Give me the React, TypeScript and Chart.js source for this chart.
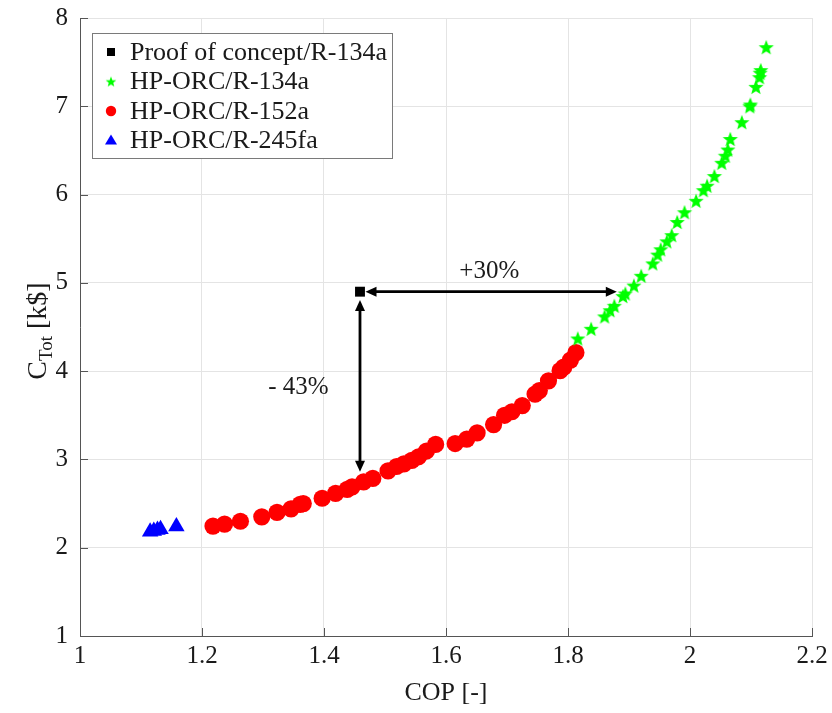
import React, { useEffect, useRef } from "react";
import { Chart, registerables } from "chart.js";

Chart.register(...registerables);

const FONT = "'Liberation Serif', 'Times New Roman', Times, serif";

const xTickValues = [1, 1.2, 1.4, 1.6, 1.8, 2, 2.2];
const xTickLabels = ["1", "1.2", "1.4", "1.6", "1.8", "2", "2.2"];
const yTickValues = [1, 2, 3, 4, 5, 6, 7, 8];
const yTickLabels = ["1", "2", "3", "4", "5", "6", "7", "8"];

const seriesLabels = [
  "Proof of concept/R-134a",
  "HP-ORC/R-134a",
  "HP-ORC/R-152a",
  "HP-ORC/R-245fa",
];

const proofCOP = [1.459];
const proofCost = [4.9];

const r134aCOP = [
  1.816, 1.838, 1.86, 1.869, 1.876, 1.89, 1.894, 1.908, 1.92, 1.939, 1.947,
  1.952, 1.962, 1.97, 1.979, 1.991, 2.01, 2.022, 2.028, 2.04, 2.052, 2.058,
  2.062, 2.066, 2.085, 2.098, 2.099, 2.108, 2.114, 2.115, 2.116, 2.125,
];
const r134aCost = [
  4.37, 4.48, 4.62, 4.69, 4.74, 4.85, 4.88, 4.97, 5.08, 5.22, 5.32, 5.38, 5.47,
  5.54, 5.69, 5.8, 5.93, 6.05, 6.1, 6.21, 6.36, 6.44, 6.51, 6.63, 6.82, 7.0,
  7.02, 7.22, 7.33, 7.38, 7.41, 7.67,
];

const r152aCOP = [
  1.218, 1.237, 1.263, 1.298, 1.323, 1.346, 1.361, 1.366, 1.397, 1.419, 1.438,
  1.446, 1.465, 1.48, 1.505, 1.519, 1.531, 1.544, 1.555, 1.568, 1.583, 1.615,
  1.634, 1.651, 1.678, 1.696, 1.708, 1.725, 1.746, 1.753, 1.768, 1.787, 1.793,
  1.804, 1.813,
];
const r152aCost = [
  2.245, 2.268, 2.3, 2.35, 2.4, 2.44, 2.49, 2.5, 2.56, 2.615, 2.66, 2.69, 2.745,
  2.785, 2.87, 2.92, 2.95, 2.99, 3.03, 3.095, 3.17, 3.18, 3.23, 3.3, 3.395, 3.5,
  3.54, 3.61, 3.74, 3.78, 3.89, 4.005, 4.045, 4.125, 4.21,
];

const r245faCOP = [1.115, 1.121, 1.127, 1.132, 1.158];
const r245faCost = [2.18, 2.19, 2.2, 2.21, 2.24];

// double-headed arrows and their notes
const arrowStartX = [1.468, 1.459];
const arrowStartY = [4.9, 4.805];
const arrowEndX = [1.88, 1.459];
const arrowEndY = [4.9, 2.86];
const noteTexts = ["+30%", "- 43%"];
const noteX = [1.671, 1.358];
const noteY = [5.13, 3.82];

const AXIS_COLOR = "#555555";
const TEXT_COLOR = "#1a1a1a";

function makeStar(outer: number, color: string): HTMLCanvasElement {
  const size = Math.ceil(outer * 2) + 2;
  const c = document.createElement("canvas");
  c.width = size;
  c.height = size;
  const g = c.getContext("2d")!;
  g.fillStyle = color;
  g.beginPath();
  const cx = size / 2;
  const cy = size / 2 + outer * 0.1;
  for (let i = 0; i < 10; i++) {
    const r = i % 2 === 0 ? outer : outer * 0.42;
    const a = -Math.PI / 2 + (i * Math.PI) / 5;
    const x = cx + r * Math.cos(a);
    const y = cy + r * Math.sin(a);
    if (i === 0) g.moveTo(x, y);
    else g.lineTo(x, y);
  }
  g.closePath();
  g.fill();
  return c;
}

function drawHead(ctx: CanvasRenderingContext2D, tx: number, ty: number, ux: number, uy: number) {
  const len = 11;
  const half = 5;
  const bx = tx - ux * len;
  const by = ty - uy * len;
  ctx.beginPath();
  ctx.moveTo(tx, ty);
  ctx.lineTo(bx - uy * half, by + ux * half);
  ctx.lineTo(bx + uy * half, by - ux * half);
  ctx.closePath();
  ctx.fill();
}

const annotationPlugin = {
  id: "annotations",
  afterDatasetsDraw(chart: any) {
    const ctx = chart.ctx as CanvasRenderingContext2D;
    const xs = chart.scales.x;
    const ys = chart.scales.y;
    ctx.save();
    ctx.strokeStyle = "#000";
    ctx.fillStyle = "#000";
    ctx.lineWidth = 2.8;
    for (let i = 0; i < arrowStartX.length; i++) {
      const x1 = xs.getPixelForValue(arrowStartX[i]);
      const y1 = ys.getPixelForValue(arrowStartY[i]);
      const x2 = xs.getPixelForValue(arrowEndX[i]);
      const y2 = ys.getPixelForValue(arrowEndY[i]);
      const d = Math.hypot(x2 - x1, y2 - y1);
      const ux = (x2 - x1) / d;
      const uy = (y2 - y1) / d;
      ctx.beginPath();
      ctx.moveTo(x1 + ux * 8, y1 + uy * 8);
      ctx.lineTo(x2 - ux * 8, y2 - uy * 8);
      ctx.stroke();
      drawHead(ctx, x2, y2, ux, uy);
      drawHead(ctx, x1, y1, -ux, -uy);
    }
    ctx.font = `25px ${FONT}`;
    ctx.fillStyle = TEXT_COLOR;
    ctx.textAlign = "center";
    ctx.textBaseline = "middle";
    for (let i = 0; i < noteTexts.length; i++) {
      ctx.fillText(noteTexts[i], xs.getPixelForValue(noteX[i]), ys.getPixelForValue(noteY[i]));
    }
    ctx.restore();
  },
};

const axisDecorPlugin = {
  id: "axisDecor",
  afterDraw(chart: any) {
    const ctx = chart.ctx as CanvasRenderingContext2D;
    const area = chart.chartArea;
    const xs = chart.scales.x;
    const ys = chart.scales.y;
    ctx.save();
    // inward ticks
    ctx.strokeStyle = AXIS_COLOR;
    ctx.lineWidth = 1;
    ctx.beginPath();
    for (const v of xTickValues) {
      const px = Math.round(xs.getPixelForValue(v)) + 0.5;
      ctx.moveTo(px, area.bottom);
      ctx.lineTo(px, area.bottom - 8);
    }
    for (const v of yTickValues) {
      const py = Math.round(ys.getPixelForValue(v)) + 0.5;
      ctx.moveTo(area.left, py);
      ctx.lineTo(area.left + 8, py);
    }
    ctx.stroke();

    // y axis title with subscript
    const cx = 46;
    const cy = (area.top + area.bottom) / 2 + 4;
    ctx.translate(cx, cy);
    ctx.rotate(-Math.PI / 2);
    ctx.fillStyle = TEXT_COLOR;
    ctx.textBaseline = "alphabetic";
    ctx.textAlign = "left";
    const big = `28px ${FONT}`;
    const small = `19px ${FONT}`;
    ctx.font = big;
    const wC = ctx.measureText("C").width;
    const wRest = ctx.measureText(" [k$]").width;
    ctx.font = small;
    const wSub = ctx.measureText("Tot").width;
    const start = -(wC + wSub + wRest) / 2;
    ctx.font = big;
    ctx.fillText("C", start, 0);
    ctx.font = small;
    ctx.fillText("Tot", start + wC, 6);
    ctx.font = big;
    ctx.fillText(" [k$]", start + wC + wSub, 0);
    ctx.restore();
  },
};

function makeLegendPlugin(starSmall: HTMLCanvasElement) {
  return {
    id: "customLegend",
    afterDraw(chart: any) {
      const ctx = chart.ctx as CanvasRenderingContext2D;
      ctx.save();
      const bx = 92.5;
      const by = 33;
      const bw = 300;
      const bh = 125;
      ctx.fillStyle = "#ffffff";
      ctx.fillRect(bx, by, bw, bh);
      ctx.strokeStyle = "#7a7a7a";
      ctx.lineWidth = 1;
      ctx.strokeRect(bx, by + 0.5, bw, bh);
      const rowY = [52, 81.5, 111, 140.5];
      const mx = 111;
      ctx.font = `26px ${FONT}`;
      ctx.textBaseline = "middle";
      ctx.textAlign = "left";
      chart.data.datasets.forEach((ds: any, i: number) => {
        const y = rowY[i];
        ctx.fillStyle = ds.backgroundColor;
        if (i === 0) {
          ctx.fillRect(mx - 4, y - 4, 8, 8);
        } else if (i === 1) {
          ctx.drawImage(starSmall, mx - starSmall.width / 2, y - starSmall.height / 2);
        } else if (i === 2) {
          ctx.beginPath();
          ctx.arc(mx, y, 5.2, 0, Math.PI * 2);
          ctx.fill();
        } else {
          ctx.beginPath();
          ctx.moveTo(mx, y - 6);
          ctx.lineTo(mx + 6, y + 4);
          ctx.lineTo(mx - 6, y + 4);
          ctx.closePath();
          ctx.fill();
        }
        ctx.fillStyle = TEXT_COLOR;
        ctx.fillText(ds.label, 130, y + 1);
      });
      ctx.restore();
    },
  };
}

function pts(xs: number[], ys: number[]) {
  return xs.map((x, i) => ({ x, y: ys[i] }));
}

export default function App() {
  const canvasRef = useRef<HTMLCanvasElement | null>(null);

  useEffect(() => {
    const canvas = canvasRef.current;
    if (!canvas) return;
    const star = makeStar(8, "#00ff00");
    const starSmall = makeStar(5.6, "#00ff00");

    const chart = new Chart(canvas, {
      type: "scatter",
      data: {
        datasets: [
          {
            label: seriesLabels[0],
            data: pts(proofCOP, proofCost),
            backgroundColor: "#000000",
            borderColor: "#000000",
            pointStyle: "rect",
            pointRadius: 7,
            pointBorderWidth: 0,
          },
          {
            label: seriesLabels[1],
            data: pts(r134aCOP, r134aCost),
            backgroundColor: "#00ff00",
            borderColor: "#00ff00",
            pointStyle: star as any,
            pointRadius: 8,
            pointBorderWidth: 0,
          },
          {
            label: seriesLabels[2],
            data: pts(r152aCOP, r152aCost),
            backgroundColor: "#ff0000",
            borderColor: "#ff0000",
            pointStyle: "circle",
            pointRadius: 8.6,
            pointBorderWidth: 0,
          },
          {
            label: seriesLabels[3],
            data: pts(r245faCOP, r245faCost),
            backgroundColor: "#0000ff",
            borderColor: "#0000ff",
            pointStyle: "triangle",
            pointRadius: 9.5,
            pointBorderWidth: 0,
          },
        ],
      },
      options: {
        responsive: false,
        animation: false,
        events: [],
        layout: { padding: { top: 18, right: 20, left: 0, bottom: 0 } },
        plugins: {
          legend: { display: false },
          tooltip: { enabled: false },
        },
        scales: {
          x: {
            type: "linear",
            min: 1,
            max: 2.2,
            afterBuildTicks: (axis: any) => {
              axis.ticks = xTickValues.map((v) => ({ value: v }));
            },
            afterFit: (s: any) => {
              s.height = 77;
              s.paddingLeft = 0;
              s.paddingRight = 0;
            },
            ticks: {
              autoSkip: false,
              maxRotation: 0,
              padding: 5,
              color: TEXT_COLOR,
              font: { family: FONT, size: 25 },
              callback: (v: any) => xTickLabels[xTickValues.indexOf(v)],
            },
            grid: { color: "#e4e4e4", lineWidth: 1, drawTicks: false },
            border: { display: true, color: AXIS_COLOR, width: 1 },
            title: {
              display: true,
              text: "COP [-]",
              color: TEXT_COLOR,
              font: { family: FONT, size: 26 },
              padding: { top: 0, bottom: 4 },
            },
          },
          y: {
            type: "linear",
            min: 1,
            max: 8,
            afterBuildTicks: (axis: any) => {
              axis.ticks = yTickValues.map((v) => ({ value: v }));
            },
            afterFit: (s: any) => {
              s.width = 80;
              s.paddingTop = 0;
              s.paddingBottom = 0;
            },
            ticks: {
              autoSkip: false,
              padding: 12,
              color: TEXT_COLOR,
              font: { family: FONT, size: 25 },
              callback: (v: any) => yTickLabels[yTickValues.indexOf(v)],
            },
            grid: { color: "#e4e4e4", lineWidth: 1, drawTicks: false },
            border: { display: true, color: AXIS_COLOR, width: 1 },
          },
        },
      },
      plugins: [annotationPlugin, axisDecorPlugin, makeLegendPlugin(starSmall)],
    });
    return () => chart.destroy();
  }, []);

  return (
    <div style={{ position: "absolute", left: 0, top: 0, width: 832, height: 713, background: "#fff" }}>
      <canvas ref={canvasRef} width={832} height={713} style={{ display: "block" }} />
    </div>
  );
}
